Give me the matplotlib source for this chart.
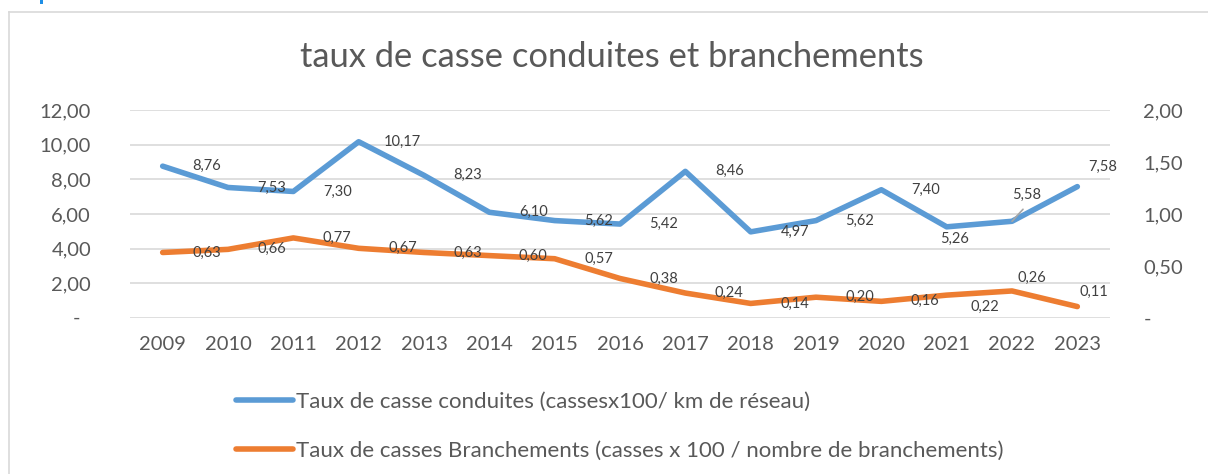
import matplotlib
matplotlib.use("Agg")
import matplotlib.pyplot as plt
from matplotlib.lines import Line2D
from matplotlib.patches import Rectangle

# ---- data ----
years = ["2009", "2010", "2011", "2012", "2013", "2014", "2015", "2016",
         "2017", "2018", "2019", "2020", "2021", "2022", "2023"]
conduites = [8.76, 7.53, 7.30, 10.17, 8.23, 6.10, 5.62, 5.42,
             8.46, 4.97, 5.62, 7.40, 5.26, 5.58, 7.58]
branchements = [0.63, 0.66, 0.77, 0.67, 0.63, 0.60, 0.57, 0.38,
                0.24, 0.14, 0.20, 0.16, 0.22, 0.26, 0.11]
left_ticks = [0, 2, 4, 6, 8, 10, 12]
left_labels = ["", "2,00", "4,00", "6,00", "8,00", "10,00", "12,00"]
right_ticks = [0, 0.5, 1.0, 1.5, 2.0]
right_labels = ["-", "0,50", "1,00", "1,50", "2,00"]
title = "taux de casse conduites et branchements"
name_c = "Taux de casse conduites (cassesx100/ km de réseau)"
name_b = "Taux de casses Branchements (casses x 100 / nombre de branchements)"

# ---- label placement (pixels) ----
off_c = [(44, 0)] * 12 + [(8, -12), (15, 26), (25, 20)]
off_b = [(44, 0)] * 12 + [(38, -12), (20, 13), (17, 15)]

BLUE = "#5B9BD5"
ORANGE = "#ED7D31"
GRID = "#D9D9D9"
TXT = "#595959"
LBL = "#404040"
FONT = "Lato"

plt.rcParams["font.family"] = [FONT, "DejaVu Sans"]

W, H = 1208, 474
fig = plt.figure(figsize=(W / 100, H / 100), dpi=100)
fig.patch.set_facecolor("white")

ax = fig.add_axes([130 / W, 1 - 318 / H, 980 / W, 208 / H])
ax2 = ax.twinx()

x = list(range(len(years)))
lc, = ax.plot(x, conduites, color=BLUE, lw=4.0, solid_capstyle="round",
              solid_joinstyle="round", zorder=3, label=name_c)
lb, = ax2.plot(x, branchements, color=ORANGE, lw=4.0, solid_capstyle="round",
               solid_joinstyle="round", zorder=3, label=name_b)

ax.set_xlim(-0.5, len(years) - 0.5)
ax.set_ylim(0, 12)
ax2.set_ylim(0, 2)
ax.set_yticks(left_ticks)
ax.set_yticklabels(left_labels)
ax2.set_yticks(right_ticks)
ax2.set_yticklabels(right_labels)
ax.set_xticks(x)
ax.set_xticklabels(years)

for a in (ax, ax2):
    for s in a.spines.values():
        s.set_visible(False)
ax.grid(axis="y", color=GRID, lw=1.2, zorder=0)
ax.set_axisbelow(True)
ax.tick_params(axis="y", length=0, pad=28, labelsize=14.5, labelcolor=TXT)
ax.tick_params(axis="x", length=0, pad=13, labelsize=14.5, labelcolor=TXT)
ax2.tick_params(axis="y", length=0, pad=24, labelsize=14.5, labelcolor=TXT)
for t in ax2.get_yticklabels():
    t.set_ha("left")

# "-" for zero on left axis
ax.annotate("-", xy=(0, 0), xycoords=("axes fraction", "data"),
            xytext=(-53, 0), textcoords="offset pixels",
            ha="center", va="center", fontsize=14.5, color=TXT)

# data labels
for i, v in enumerate(conduites):
    dx, dy = off_c[i]
    ax.annotate(f"{v:.2f}".replace(".", ","), xy=(i, v), xytext=(dx, dy),
                textcoords="offset pixels", ha="center", va="center",
                fontsize=10.5, color=LBL, zorder=5)
for i, v in enumerate(branchements):
    dx, dy = off_b[i]
    ax2.annotate(f"{v:.2f}".replace(".", ","), xy=(i, v), xytext=(dx, dy),
                 textcoords="offset pixels", ha="center", va="center",
                 fontsize=10.5, color=LBL, zorder=5)

# leader line for 2022 conduites label
ax.annotate("", xy=(13, conduites[13]), xytext=(11, 12),
            textcoords="offset pixels",
            arrowprops=dict(arrowstyle="-", color="#A6A6A6", lw=1.2,
                            shrinkA=0, shrinkB=0))

# title
fig.text(612 / W, 1 - 57 / H, title, ha="center", va="center",
         fontsize=24.8, color=TXT)

# legend
leg = fig.legend(handles=[lc, lb], loc="upper left",
                 bbox_to_anchor=(236 / W, 1 - 392 / H),
                 frameon=False, fontsize=16, labelcolor=TXT,
                 handlelength=2.55, handletextpad=0.13, labelspacing=1.3,
                 borderpad=0, borderaxespad=0)
for h in leg.get_lines():
    h.set_solid_capstyle("round")
    h.set_linewidth(4.0)

# chart frame
fig.add_artist(Line2D([9 / W, 9 / W], [0, 1 - 12 / H], color=GRID, lw=1.2,
                      transform=fig.transFigure))
fig.add_artist(Line2D([9 / W, 1], [1 - 12 / H, 1 - 12 / H], color=GRID,
                      lw=1.2, transform=fig.transFigure))
# fragment of blue text above the chart
fig.add_artist(Rectangle((40 / W, 1 - 4 / H), 3 / W, 4 / H,
                         color="#1F8FE6", transform=fig.transFigure, lw=0))

fig.savefig("out.png", dpi=100, facecolor="white")
